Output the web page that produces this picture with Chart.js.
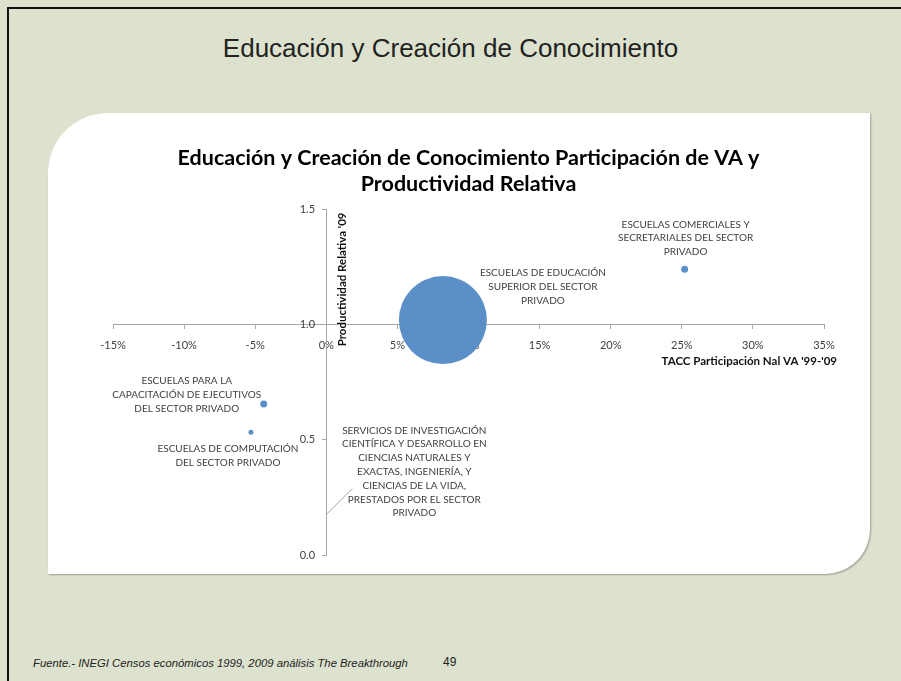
<!DOCTYPE html>
<html>
<head>
<meta charset="utf-8">
<script src="https://cdn.jsdelivr.net/npm/chart.js@4"></script>
<style>
  html, body { margin: 0; padding: 0; }
  body { width: 901px; height: 681px; background: #dde2cf; position: relative; overflow: hidden; }
  .frame { position: absolute; left: 7px; top: 7px; right: -2px; bottom: -2px; border-left: 2px solid #111; border-top: 2px solid #111; }
  .slide-title { position: absolute; left: 0; width: 901px; top: 33px; text-align: center; font-family: "Liberation Sans", Arial, sans-serif; font-size: 26px; color: #222; }
  .panel { position: absolute; left: 48px; top: 113px; width: 822px; height: 461px; background: #fff;
           border-radius: 60px 0 45px 0; box-shadow: 1px 1px 2px rgba(0,0,0,0.3); }
  .panel canvas { position: absolute; left: 0; top: 0; }
  .source { position: absolute; left: 33px; top: 657px; font-family: "Liberation Sans", Arial, sans-serif; font-style: italic; font-size: 11.3px; color: #222; }
  .page-num { position: absolute; left: 443px; top: 655px; font-family: "Liberation Sans", Arial, sans-serif; font-size: 12px; color: #222; }
</style>
</head>
<body>
<div class="frame"></div>
<div class="slide-title">Educación y Creación de Conocimiento</div>
<div class="panel"><canvas id="myChart" width="822" height="486"></canvas></div>
<div class="source">Fuente.- INEGI Censos económicos 1999, 2009 análisis The Breakthrough</div>
<div class="page-num">49</div>

<script>
/* DATA */
const categories = [
  ['ESCUELAS DE EDUCACIÓN', 'SUPERIOR DEL SECTOR', 'PRIVADO'],
  ['ESCUELAS COMERCIALES Y', 'SECRETARIALES DEL SECTOR', 'PRIVADO'],
  ['ESCUELAS PARA LA', 'CAPACITACIÓN DE EJECUTIVOS', 'DEL SECTOR PRIVADO'],
  ['ESCUELAS DE COMPUTACIÓN', 'DEL SECTOR PRIVADO'],
  ['SERVICIOS DE INVESTIGACIÓN', 'CIENTÍFICA Y DESARROLLO EN', 'CIENCIAS NATURALES Y',
   'EXACTAS, INGENIERÍA, Y', 'CIENCIAS DE LA VIDA,', 'PRESTADOS POR EL SECTOR', 'PRIVADO']
];
const taccVA = [8.2, 25.2, -4.4, -5.3, 0.0];          // TACC Participación Nal VA '99-'09 (%)
const prodRelativa = [1.02, 1.24, 0.655, 0.533, 0.176]; // Productividad Relativa '09
const bubbleSize = [44, 3.5, 3.5, 2.5, 0.5];
const xTicks = [-15, -10, -5, 0, 5, 10, 15, 20, 25, 30, 35];
const yTicks = [0.0, 0.5, 1.0, 1.5];

// label placement relative to each point (px): [dx of centre, dy of first line]
const labelOffsets = [[100, -47], [1, -45], [-77, -23], [-23, 17], [88, -84]];
const leaderLines = [null, null, null, null, [26, -26]];

const FONT = 'Lato, "Open Sans", sans-serif';
const TEXT = '#404040';
const AXIS = '#a6a6a6';

/* PLUGIN: point labels and axis titles */
const annotations = {
  id: 'annotations',
  afterDatasetsDraw(chart) {
    const ctx = chart.ctx;
    const meta = chart.getDatasetMeta(0);
    const xs = chart.scales.x;
    const ys = chart.scales.y;
    ctx.save();
    ctx.fillStyle = TEXT;
    ctx.font = '10px ' + FONT;
    ctx.textAlign = 'center';
    ctx.textBaseline = 'middle';
    meta.data.forEach(function(pt, i) {
      const off = labelOffsets[i];
      categories[i].forEach(function(line, j) {
        ctx.fillText(line, pt.x + off[0], pt.y + off[1] + j * 13.8);
      });
      const ll = leaderLines[i];
      if (ll) {
        ctx.strokeStyle = AXIS;
        ctx.lineWidth = 1;
        ctx.beginPath();
        ctx.moveTo(pt.x, pt.y);
        ctx.lineTo(pt.x + ll[0], pt.y + ll[1]);
        ctx.stroke();
      }
    });

    // axis titles
    ctx.fillStyle = '#111';
    ctx.font = 'bold 11.5px ' + FONT;
    const axisY = ys.getPixelForValue(1.0);
    ctx.textAlign = 'right';
    ctx.fillText("TACC Participación Nal VA '99-'09", chart.chartArea.right + 13, axisY + 37);

    const axisX = xs.getPixelForValue(0);
    ctx.translate(axisX + 16, chart.chartArea.top + 3);
    ctx.rotate(-Math.PI / 2);
    ctx.textAlign = 'right';
    ctx.fillText("Productividad Relativa '09", 0, 0);
    ctx.restore();
  }
};

const ctx = document.getElementById('myChart').getContext('2d');
// eslint-disable-next-line no-undef
const chart = new Chart(ctx, {
  type: 'bubble',
  data: {
    datasets: [{
      label: 'Sectores',
      data: taccVA.map(function(x, i) {
        return { x: x, y: prodRelativa[i], r: bubbleSize[i] };
      }),
      backgroundColor: '#5b8fc8',
      borderColor: '#5b8fc8',
      borderWidth: 0,
    }]
  },
  options: {
    responsive: false,
    animation: false,
    layout: { padding: { left: 65, right: 46, top: 0, bottom: 0 } },
    plugins: {
      legend: { display: false },
      tooltip: { enabled: false },
      title: {
        display: true,
        text: ['Educación y Creación de Conocimiento Participación de VA y', 'Productividad Relativa'],
        color: '#000',
        font: { family: FONT, size: 21.5, weight: 'bold', lineHeight: 1.22 },
        padding: { top: 32, bottom: 12 },
      },
    },
    scales: {
      x: {
        type: 'linear',
        position: { y: 1.0 },
        min: xTicks[0],
        max: xTicks[xTicks.length - 1],
        afterBuildTicks: function(scale) {
          scale.ticks = xTicks.map(function(v) { return { value: v }; });
        },
        ticks: {
          color: TEXT,
          font: { family: FONT, size: 11 },
          padding: 10,
          maxRotation: 0,
          callback: function(v) { return v + '%'; },
        },
        grid: { drawOnChartArea: false, color: AXIS, tickLength: 4 },
        border: { color: AXIS },
      },
      y: {
        type: 'linear',
        position: { x: 0 },
        min: yTicks[0],
        max: yTicks[yTicks.length - 1],
        afterBuildTicks: function(scale) {
          scale.ticks = yTicks.map(function(v) { return { value: v }; });
        },
        ticks: {
          color: TEXT,
          font: { family: FONT, size: 11 },
          // labels on an axis positioned by value sit flush with the line, so pad with spaces
          callback: function(v) { return v.toFixed(1) + '    '; },
        },
        grid: { drawOnChartArea: false, color: AXIS, tickLength: 4 },
        border: { color: AXIS },
      },
    },
  },
  plugins: [annotations],
});
</script>
</body>
</html>
